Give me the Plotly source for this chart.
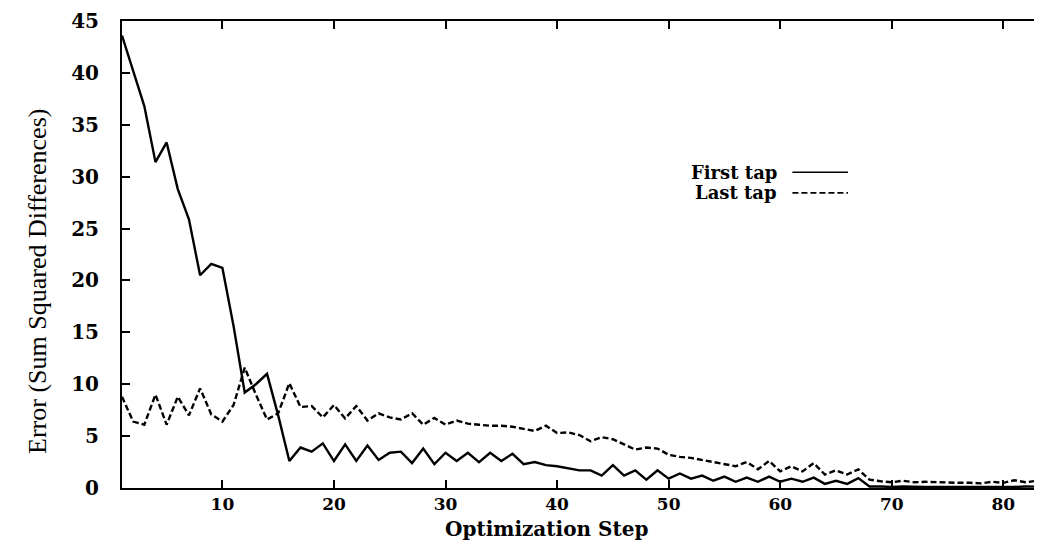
import plotly.graph_objects as go

steps = list(range(1, 85))

first_tap = [43.6, 40.2, 36.8, 31.4, 33.3, 28.8, 25.9, 20.5, 21.6, 21.2,
             15.6, 9.2, 10.0, 11.0, 7.0, 2.6, 3.9, 3.5, 4.3, 2.6,
             4.2, 2.6, 4.1, 2.7, 3.4, 3.5, 2.4, 3.8, 2.3, 3.4,
             2.6, 3.4, 2.5, 3.4, 2.6, 3.3, 2.3, 2.5, 2.2, 2.1,
             1.9, 1.7, 1.7, 1.2, 2.2, 1.2, 1.7, 0.8, 1.7, 0.9,
             1.4, 0.9, 1.2, 0.7, 1.1, 0.6, 1.0, 0.6, 1.1, 0.6,
             0.9, 0.6, 1.0, 0.4, 0.7, 0.4, 0.95, 0.15, 0.15, 0.1,
             0.15, 0.1, 0.1, 0.1, 0.1, 0.05, 0.1, 0.05, 0.1, 0.1,
             0.1, 0.15, 0.1, 0.1]

last_tap = [8.8, 6.4, 6.1, 9.0, 6.1, 8.8, 7.0, 9.6, 7.1, 6.4,
            8.0, 11.6, 9.0, 6.6, 7.2, 10.1, 7.8, 7.9, 6.8, 8.0,
            6.7, 7.9, 6.5, 7.2, 6.8, 6.6, 7.2, 6.1, 6.75, 6.1,
            6.5, 6.2, 6.1, 6.0, 6.0, 5.9, 5.7, 5.5, 6.0, 5.3,
            5.35, 5.1, 4.5, 4.9, 4.7, 4.2, 3.7, 3.9, 3.8, 3.2,
            3.0, 2.9, 2.7, 2.5, 2.3, 2.1, 2.5, 1.8, 2.6, 1.6,
            2.1, 1.6, 2.4, 1.3, 1.7, 1.3, 1.8, 0.8, 0.65, 0.55,
            0.7, 0.55, 0.6, 0.55, 0.55, 0.5, 0.5, 0.45, 0.6, 0.5,
            0.75, 0.55, 0.7, 0.5]

x_ticks = [10, 20, 30, 40, 50, 60, 70, 80]
y_ticks = [0, 5, 10, 15, 20, 25, 30, 35, 40, 45]
series_names = ["First tap", "Last tap"]
x_title = "Optimization Step"
y_title = "Error (Sum Squared Differences)"

serif = "DejaVu Serif"
dash_pat = "6px,3px"

fig = go.Figure()
fig.add_trace(go.Scatter(x=steps, y=first_tap, mode="lines", name=series_names[0],
                         line=dict(color="black", width=2.4)))
fig.add_trace(go.Scatter(x=steps, y=last_tap, mode="lines", name=series_names[1],
                         line=dict(color="black", width=2.4, dash=dash_pat)))

# legend drawn gnuplot-style: label text then line sample on the right
leg_y = [0.676, 0.632]
dashes = ["solid", dash_pat]
for name, yy, d in zip(series_names, leg_y, dashes):
    fig.add_annotation(x=0.710, y=yy, xref="paper", yref="paper", text="<b>" + name + "</b>",
                       showarrow=False, xanchor="right", yanchor="middle",
                       font=dict(family=serif, size=18, color="black"))
    fig.add_shape(type="line", xref="paper", yref="paper", x0=0.724, x1=0.784, y0=yy, y1=yy,
                  line=dict(color="black", width=1.6, dash=d))

# axis titles placed as in the reference (x title slightly left of centre)
fig.add_annotation(x=0.458, y=-0.088, xref="paper", yref="paper", text="<b>" + x_title + "</b>",
                   showarrow=False, xanchor="center", yanchor="middle",
                   font=dict(family=serif, size=20, color="black"))
fig.add_annotation(x=-0.092, y=0.443, xref="paper", yref="paper", text=y_title, textangle=-90,
                   showarrow=False, xanchor="center", yanchor="middle",
                   font=dict(family="Liberation Serif", size=26, color="black"))

fig.update_layout(
    width=1042, height=542,
    margin=dict(l=114, r=0, t=13, b=62),
    paper_bgcolor="white", plot_bgcolor="white",
    showlegend=False,
    font=dict(family=serif, color="black"),
)
fig.update_xaxes(range=[1, 84], tickvals=x_ticks, ticks="inside", ticklen=8, tickwidth=1.5,
                 tickcolor="black", showline=True, linecolor="black", linewidth=2, mirror="ticks",
                 showgrid=False, zeroline=False, ticklabelstandoff=0,
                 tickfont=dict(family=serif, size=17, color="black", weight="bold"))
fig.update_yaxes(range=[0, 45], tickvals=y_ticks, ticks="inside", ticklen=8, tickwidth=1.5,
                 tickcolor="black", showline=True, linecolor="black", linewidth=2, mirror="ticks",
                 showgrid=False, zeroline=False, ticklabelstandoff=17,
                 tickfont=dict(family=serif, size=20, color="black", weight="bold"))

fig.write_html("out.html")
